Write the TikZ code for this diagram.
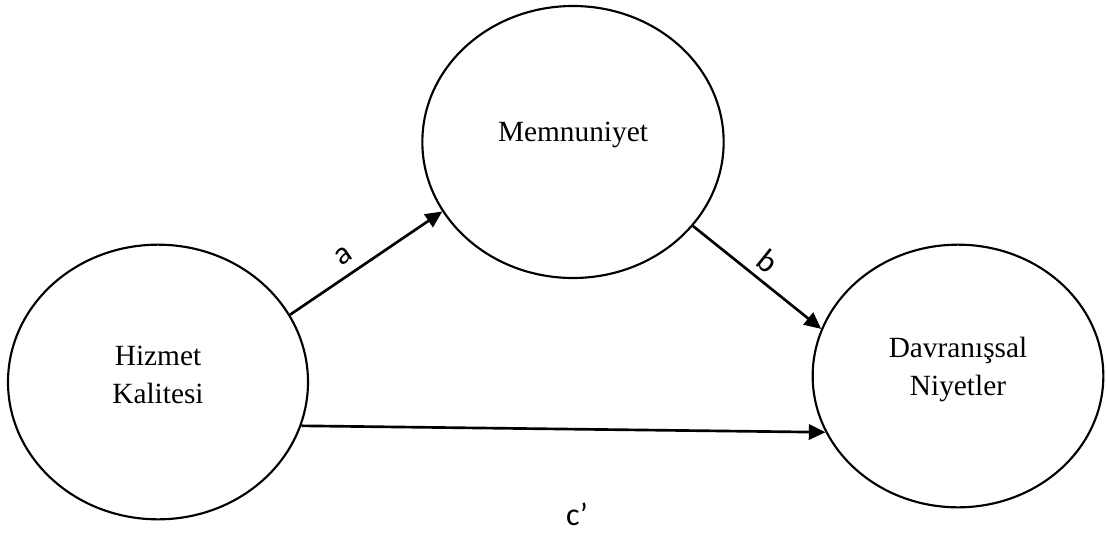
\documentclass[tikz,border=0pt]{standalone}
\usepackage{fontspec}
\setmainfont{Liberation Serif}
\newfontfamily\coeffont{Carlito}
\usetikzlibrary{arrows.meta,shapes.geometric}
\begin{document}
\begin{tikzpicture}[x=0.75pt,y=-0.75pt,
  oval/.style={draw, ellipse, line width=1.6pt, inner sep=0pt},
  caption/.style={align=center, inner sep=0pt,
    font=\fontsize{22pt}{28.5pt}\selectfont},
  link/.style={line width=2pt, -{Triangle[length=12.5pt,width=11.5pt]}},
  coef/.style={inner sep=0pt, font=\coeffont\fontsize{24pt}{28pt}\selectfont}
]
\useasboundingbox (0,0) rectangle (1106,532);

% constructs
\node[oval, minimum width=225pt, minimum height=206pt] (hk)  at (158,382) {};
\node[oval, minimum width=226pt, minimum height=204pt] (mem) at (573,142) {};
\node[oval, minimum width=218pt, minimum height=197pt] (dn)  at (958,376) {};

\node[caption] (hkt)  at ([yshift=5pt]hk.center)  {Hizmet\\Kalitesi};
\node[caption] (memt) at ([yshift=5pt]mem.center) {Memnuniyet};
\node[caption] (dnt)  at ([yshift=5pt]dn.center)  {Davranışsal\\Niyetler};

% paths
\draw[link] (hk.27) -- node[coef, sloped, above=7pt, pos=0.42] (la) {a} (mem.208);
\draw[link] (mem.-35) -- node[coef, sloped, above=5.5pt, pos=0.49] (lb) {b} (dn.161);
\draw[link] (hk.-17) -- (dn.203);
\node[coef] (lc) at (577,514) {c’};
\end{tikzpicture}
\end{document}
